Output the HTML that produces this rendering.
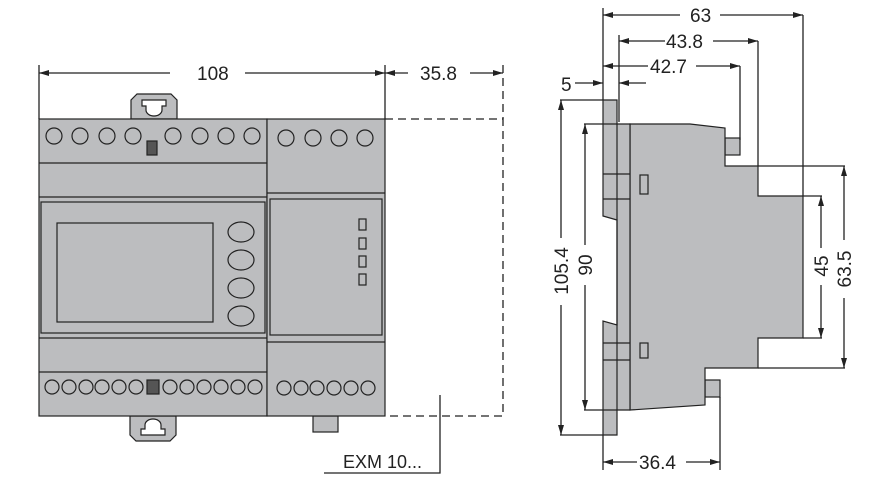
<!DOCTYPE html>
<html><head><meta charset="utf-8"><style>
html,body{margin:0;padding:0;background:#fff;width:888px;height:498px;overflow:hidden}
svg{display:block}
text{font-family:"Liberation Sans",sans-serif;font-size:19px;fill:#222}
</style></head><body>
<svg width="888" height="498" viewBox="0 0 888 498" xmlns="http://www.w3.org/2000/svg">
<defs>
<marker id="a" viewBox="0 0 10 6" refX="10" refY="3" markerWidth="10" markerHeight="6" orient="auto-start-reverse" markerUnits="userSpaceOnUse"><path d="M0,0L10,3L0,6z" fill="#222"/></marker>
</defs>
<g stroke="#222" stroke-width="1.3" fill="none">
<!-- left view dims -->
<line x1="39" y1="65" x2="39" y2="119"/>
<line x1="385" y1="65" x2="385" y2="119"/>
<line x1="503" y1="65" x2="503" y2="119" stroke-dasharray="8,5"/>
<line x1="39" y1="73" x2="170" y2="73" marker-start="url(#a)"/>
<line x1="245" y1="73" x2="385" y2="73" marker-end="url(#a)"/>
<line x1="385" y1="73" x2="408" y2="73" marker-start="url(#a)"/>
<line x1="470" y1="73" x2="503" y2="73" marker-end="url(#a)"/>
<!-- dashed box -->
<path d="M385,119H503V416H385" stroke-dasharray="8,5"/>
<!-- leader -->
<path d="M440,395V473H324"/>
</g>
<text x="197" y="80">108</text>
<text x="420" y="80">35.8</text>
<text x="343" y="468" style="font-size:18px">EXM 10...</text>

<g stroke="#222" stroke-width="1.2" fill="#bcbdbf">
<!-- DIN clips -->
<path d="M131,119V100l6,-6h34l6,6v19z"/>
<path d="M142,100h24v6h-4v4a8,6 0 0 1 -16,0v-4h-4z" fill="#fff"/>
<path d="M130,416v19l6,6h34l6,-6v-19z"/>
<path d="M141,435h24v-6h-4v-4a8,6 0 0 0 -16,0v4h-4z" fill="#fff"/>
<rect x="313" y="416" width="25" height="16"/>
<!-- main body -->
<rect x="39" y="119" width="228" height="297"/>
<line x1="39" y1="163" x2="267" y2="163"/>
<line x1="39" y1="197" x2="267" y2="197"/>
<line x1="39" y1="338" x2="267" y2="338"/>
<line x1="39" y1="372" x2="267" y2="372"/>
<rect x="41" y="202" width="224" height="131"/>
<rect x="57" y="223" width="156" height="99"/>
<ellipse cx="241" cy="232" rx="13" ry="10"/>
<ellipse cx="241" cy="260" rx="13" ry="10"/>
<ellipse cx="241" cy="288" rx="13" ry="10"/>
<ellipse cx="241" cy="316" rx="13" ry="10"/>
<!-- top circles -->
<circle cx="54" cy="136" r="8"/><circle cx="80" cy="136" r="8"/><circle cx="107" cy="136" r="8"/><circle cx="133" cy="136" r="8"/>
<circle cx="173" cy="136" r="8"/><circle cx="200" cy="136" r="8"/><circle cx="226" cy="136" r="8"/><circle cx="252" cy="136" r="8"/>
<rect x="147" y="141" width="10" height="14" fill="#555"/>
<!-- bottom circles -->
<circle cx="52" cy="387" r="7"/><circle cx="69" cy="387" r="7"/><circle cx="86" cy="387" r="7"/><circle cx="102" cy="387" r="7"/><circle cx="119" cy="387" r="7"/><circle cx="136" cy="387" r="7"/>
<rect x="147" y="380" width="12" height="14" fill="#555"/>
<circle cx="170" cy="387" r="7"/><circle cx="187" cy="387" r="7"/><circle cx="204" cy="387" r="7"/><circle cx="221" cy="387" r="7"/><circle cx="238" cy="387" r="7"/><circle cx="255" cy="387" r="7"/>
<!-- module -->
<rect x="267" y="119" width="118" height="297"/>
<line x1="267" y1="193" x2="385" y2="193"/>
<line x1="267" y1="342" x2="385" y2="342"/>
<rect x="270" y="199" width="112" height="136"/>
<rect x="359" y="219" width="7" height="11"/><rect x="359" y="238" width="7" height="11"/><rect x="359" y="256" width="7" height="11"/><rect x="359" y="274" width="7" height="11"/>
<circle cx="286" cy="138" r="8"/><circle cx="313" cy="138" r="8"/><circle cx="339" cy="138" r="8"/><circle cx="365" cy="138" r="8"/>
<circle cx="284" cy="388" r="7"/><circle cx="301" cy="388" r="7"/><circle cx="317" cy="388" r="7"/><circle cx="334" cy="388" r="7"/><circle cx="351" cy="388" r="7"/><circle cx="368" cy="388" r="7"/>

<!-- right side view -->
<rect x="725" y="138" width="15" height="17"/>
<rect x="705" y="380" width="15" height="17"/>
<path d="M630,124H690l35,4V166H758V196H803V338H758V368H705V405L630,410z"/>
<path d="M603,100H617V124H630V410H617V435H603V321L617,325V220L603,216z"/>
<line x1="617" y1="124" x2="617" y2="410"/>
<line x1="603" y1="174" x2="630" y2="174"/>
<line x1="603" y1="199" x2="630" y2="199"/>
<line x1="603" y1="343" x2="630" y2="343"/>
<line x1="603" y1="360" x2="630" y2="360"/>
<rect x="640" y="175" width="8" height="19"/>
<rect x="640" y="343" width="8" height="15"/>
</g>
<g stroke="#222" stroke-width="1.3" fill="none">
<line x1="603" y1="8" x2="603" y2="100"/>
<line x1="619" y1="35" x2="619" y2="122"/>
<line x1="803" y1="15" x2="803" y2="196"/>
<line x1="758" y1="41" x2="758" y2="166"/>
<line x1="740" y1="66" x2="740" y2="140"/>
<line x1="603" y1="15" x2="680" y2="15" marker-start="url(#a)"/>
<line x1="720" y1="15" x2="803" y2="15" marker-end="url(#a)"/>
<line x1="619" y1="41" x2="665" y2="41" marker-start="url(#a)"/>
<line x1="713" y1="41" x2="758" y2="41" marker-end="url(#a)"/>
<line x1="603" y1="66" x2="648" y2="66" marker-start="url(#a)"/>
<line x1="696" y1="66" x2="740" y2="66" marker-end="url(#a)"/>
<line x1="575" y1="83" x2="603" y2="83" marker-end="url(#a)"/>
<line x1="619" y1="83" x2="646" y2="83" marker-start="url(#a)"/>
<line x1="560" y1="100" x2="603" y2="100"/>
<line x1="560" y1="435" x2="603" y2="435"/>
<line x1="584" y1="124" x2="617" y2="124"/>
<line x1="584" y1="410" x2="617" y2="410"/>
<line x1="561" y1="100" x2="561" y2="238" marker-start="url(#a)"/>
<line x1="561" y1="305" x2="561" y2="435" marker-end="url(#a)"/>
<line x1="585" y1="124" x2="585" y2="245" marker-start="url(#a)"/>
<line x1="585" y1="285" x2="585" y2="410" marker-end="url(#a)"/>
<line x1="758" y1="166" x2="845" y2="166"/>
<line x1="758" y1="368" x2="845" y2="368"/>
<line x1="803" y1="196" x2="822" y2="196"/>
<line x1="803" y1="338" x2="822" y2="338"/>
<line x1="821" y1="196" x2="821" y2="248" marker-start="url(#a)"/>
<line x1="821" y1="285" x2="821" y2="338" marker-end="url(#a)"/>
<line x1="844" y1="166" x2="844" y2="240" marker-start="url(#a)"/>
<line x1="844" y1="298" x2="844" y2="368" marker-end="url(#a)"/>
<line x1="603" y1="435" x2="603" y2="470"/>
<line x1="720" y1="397" x2="720" y2="470"/>
<line x1="603" y1="462" x2="637" y2="462" marker-start="url(#a)"/>
<line x1="686" y1="462" x2="720" y2="462" marker-end="url(#a)"/>
</g>
<text x="690" y="22">63</text>
<text x="666" y="48">43.8</text>
<text x="650" y="73">42.7</text>
<text x="561" y="91">5</text>
<text x="639" y="469">36.4</text>
<text transform="translate(568,271) rotate(-90)" text-anchor="middle">105.4</text>
<text transform="translate(592,265) rotate(-90)" text-anchor="middle">90</text>
<text transform="translate(828,266) rotate(-90)" text-anchor="middle">45</text>
<text transform="translate(851,269) rotate(-90)" text-anchor="middle">63.5</text>
</svg>
</body></html>
